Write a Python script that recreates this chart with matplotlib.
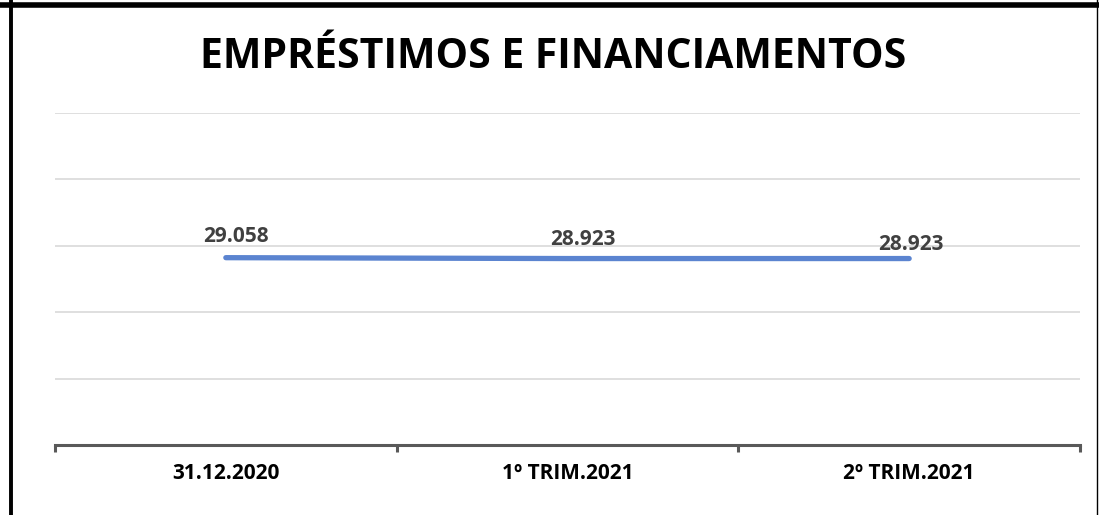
import numpy as np
import matplotlib.pyplot as plt
from matplotlib.lines import Line2D

categories = ["31.12.2020", "1º TRIM.2021", "2º TRIM.2021"]
values = [29.058, 28.923, 28.923]
labels = ["29.058", "28.923", "28.923"]
title = "EMPRÉSTIMOS E FINANCIAMENTOS"

W, H = 1099, 515
fig = plt.figure(figsize=(W / 100, H / 100), dpi=100)
plt.rcParams["font.family"] = ["Open Sans", "DejaVu Sans"]

# plot area in pixels: x 55..1080, y 113..445 (top to bottom)
ax = fig.add_axes([55 / W, 1 - 445 / H, 1025 / W, (445 - 113) / H])

x = np.arange(len(categories))
ax.plot(x, values, color="#5B84D0", lw=3.8, solid_capstyle="round")

ytop = 51.5
ax.set_ylim(0, ytop)
ax.set_xlim(-0.5, len(categories) - 0.5)
for g in np.linspace(0, ytop, 6)[1:]:
    ax.axhline(g, color="#d9d9d9", lw=1.2, zorder=0)

offsets = [(7, 11), (11, 10), (1.5, 6)]
for xi, v, lab, off in zip(x, values, labels, offsets):
    ax.annotate(lab, (xi, v), xytext=off, textcoords="offset points",
                ha="center", va="baseline", fontsize=15, fontweight="bold",
                color="#404040")

for s in ["top", "right", "left"]:
    ax.spines[s].set_visible(False)
ax.spines["bottom"].set_color("#595959")
ax.spines["bottom"].set_linewidth(2.2)
ax.set_yticks([])
ax.set_xticks(np.arange(-0.5, len(categories)), minor=False)
ax.set_xticklabels([])
ax.tick_params(axis="x", length=5, width=2.2, color="#595959", direction="out")
for xi, c in zip(x, categories):
    ax.text(xi, -0.085, c, transform=ax.get_xaxis_transform(), ha="center",
            va="center", fontsize=15, fontweight="bold", color="black")

fig.text(553 / W, 1 - 57 / H, title, ha="center", va="center", fontsize=29.5,
         fontweight="bold", color="black")

# frame around the chart
fig.add_artist(Line2D([0, 1], [1 - 4.5 / H] * 2, color="black", lw=4, transform=fig.transFigure))
fig.add_artist(Line2D([10.5 / W] * 2, [0, 1], color="black", lw=2.8, transform=fig.transFigure))
fig.add_artist(Line2D([1096.5 / W] * 2, [0, 1], color="black", lw=1, transform=fig.transFigure))

fig.savefig("out.png", dpi=100)
